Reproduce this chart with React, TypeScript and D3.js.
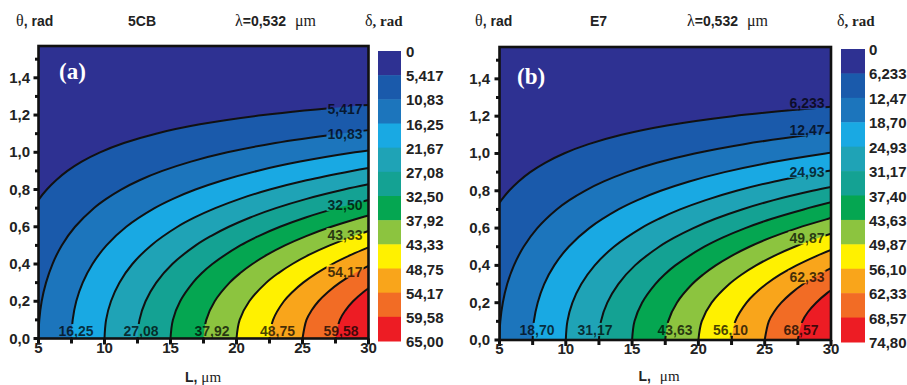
import React from "react";
import * as d3 from "d3";

type Pt = [number, number]; // [L (µm), theta (rad)]

// ---------- axes ----------
const L_MAJOR = [5, 10, 15, 20, 25, 30];
const L_MINOR = [7.5, 12.5, 17.5, 22.5, 27.5];
const T_MAJOR = [0, 0.2, 0.4, 0.6, 0.8, 1.0, 1.2, 1.4];
const T_MAJOR_LABELS = ["0,0", "0,2", "0,4", "0,6", "0,8", "1,0", "1,2", "1,4"];
const T_MINOR = [0.1, 0.3, 0.5, 0.7, 0.9, 1.1, 1.3, 1.5];

// ---------- colour bands (low δ -> high δ) ----------
const BAND_COLORS = [
  "#2e3192", "#1a5aab", "#1c75bc", "#19a9e3", "#1fa3b6", "#14a293",
  "#05a651", "#8cc43f", "#fff100", "#f9a51b", "#f26c25", "#ed1c24",
];

// ---------- level labels ----------
const LEVELS_5CB = ["0", "5,417", "10,83", "16,25", "21,67", "27,08", "32,50", "37,92", "43,33", "48,75", "54,17", "59,58", "65,00"];
const LEVELS_E7 = ["0", "6,233", "12,47", "18,70", "24,93", "31,17", "37,40", "43,63", "49,87", "56,10", "62,33", "68,57", "74,80"];

// ---------- contour lines: [L, θ] ----------
const CONTOURS_5CB: Pt[][] = [
  [[5, 0.743], [5.06, 0.75], [5.63, 0.8], [6.33, 0.85], [7.19, 0.9], [8.27, 0.95], [9.66, 1.0], [11.47, 1.05], [13.9, 1.1], [17.23, 1.15], [22.03, 1.2], [29.2, 1.25], [30, 1.254]],
  [[5, 0], [5.06, 0.1], [5.24, 0.2], [5.57, 0.3], [6.06, 0.4], [6.76, 0.5], [7.77, 0.6], [9.19, 0.7], [10.13, 0.75], [11.26, 0.8], [12.65, 0.85], [14.38, 0.9], [16.55, 0.95], [19.31, 1.0], [22.94, 1.05], [27.79, 1.1], [30, 1.119]],
  [[7.5, 0], [7.59, 0.1], [7.86, 0.2], [8.35, 0.3], [9.09, 0.4], [10.15, 0.5], [11.65, 0.6], [13.79, 0.7], [15.19, 0.75], [16.89, 0.8], [18.98, 0.85], [21.56, 0.9], [24.82, 0.95], [28.97, 1.0], [30, 1.01]],
  [[10, 0], [10.12, 0.1], [10.49, 0.2], [11.13, 0.3], [12.11, 0.4], [13.53, 0.5], [15.53, 0.6], [16.83, 0.65], [18.39, 0.7], [20.25, 0.75], [22.52, 0.8], [25.3, 0.85], [28.75, 0.9], [30, 0.916]],
  [[12.5, 0], [12.65, 0.1], [13.11, 0.2], [13.92, 0.3], [15.14, 0.4], [16.91, 0.5], [18.06, 0.55], [19.42, 0.6], [21.04, 0.65], [22.98, 0.7], [25.31, 0.75], [28.15, 0.8], [30, 0.828]],
  [[15, 0], [15.18, 0.1], [15.73, 0.2], [16.7, 0.3], [17.36, 0.35], [18.17, 0.4], [20.29, 0.5], [21.67, 0.55], [23.3, 0.6], [25.24, 0.65], [27.58, 0.7], [30, 0.744]],
  [[17.5, 0], [17.71, 0.1], [18.35, 0.2], [19.48, 0.3], [20.26, 0.35], [21.2, 0.4], [22.33, 0.45], [23.67, 0.5], [25.28, 0.55], [27.18, 0.6], [29.45, 0.65], [30, 0.661]],
  [[20, 0], [20.24, 0.1], [20.97, 0.2], [22.26, 0.3], [23.15, 0.35], [24.23, 0.4], [25.52, 0.45], [27.06, 0.5], [28.89, 0.55], [30, 0.577]],
  [[22.5, 0], [22.77, 0.1], [23.59, 0.2], [24.24, 0.25], [25.05, 0.3], [26.05, 0.35], [27.26, 0.4], [28.71, 0.45], [30, 0.489]],
  [[25, 0], [25.3, 0.1], [25.68, 0.15], [26.21, 0.2], [26.93, 0.25], [27.83, 0.3], [28.94, 0.35], [30, 0.39]],
  [[27.5, 0], [27.83, 0.1], [28.24, 0.15], [28.83, 0.2], [29.62, 0.25], [30, 0.269]],
];

const CONTOURS_E7: Pt[][] = [
  [[5, 0.736], [5.14, 0.75], [5.72, 0.8], [6.44, 0.85], [7.32, 0.9], [8.44, 0.95], [9.86, 1.0], [11.72, 1.05], [14.21, 1.1], [17.63, 1.15], [22.58, 1.2], [30, 1.25]],
  [[5, 0], [5.06, 0.1], [5.25, 0.2], [5.58, 0.3], [6.09, 0.4], [6.82, 0.5], [7.85, 0.6], [9.31, 0.7], [10.27, 0.75], [11.44, 0.8], [12.87, 0.85], [14.64, 0.9], [16.87, 0.95], [19.72, 1.0], [23.44, 1.05], [28.43, 1.1], [30, 1.113]],
  [[7.5, 0], [7.59, 0.1], [7.88, 0.2], [8.37, 0.3], [9.13, 0.4], [10.22, 0.5], [11.77, 0.6], [13.97, 0.7], [15.41, 0.75], [17.16, 0.8], [19.31, 0.85], [21.97, 0.9], [25.31, 0.95], [29.59, 1.0], [30, 1.004]],
  [[10, 0], [10.12, 0.1], [10.5, 0.2], [11.17, 0.3], [12.18, 0.4], [13.63, 0.5], [15.69, 0.6], [17.03, 0.65], [18.62, 0.7], [20.55, 0.75], [22.88, 0.8], [25.74, 0.85], [29.29, 0.9], [30, 0.909]],
  [[12.5, 0], [12.65, 0.1], [13.13, 0.2], [13.96, 0.3], [15.22, 0.4], [17.04, 0.5], [18.22, 0.55], [19.62, 0.6], [21.28, 0.65], [23.28, 0.7], [25.68, 0.75], [28.6, 0.8], [30, 0.821]],
  [[15, 0], [15.18, 0.1], [15.75, 0.2], [16.75, 0.3], [17.43, 0.35], [18.26, 0.4], [20.45, 0.5], [21.86, 0.55], [23.54, 0.6], [25.54, 0.65], [27.94, 0.7], [30, 0.738]],
  [[17.5, 0], [17.72, 0.1], [18.38, 0.2], [19.54, 0.3], [20.34, 0.35], [21.31, 0.4], [22.47, 0.45], [23.85, 0.5], [25.5, 0.55], [27.46, 0.6], [29.8, 0.65], [30, 0.654]],
  [[20, 0], [20.25, 0.1], [21.0, 0.2], [22.33, 0.3], [23.24, 0.35], [24.35, 0.4], [25.68, 0.45], [27.26, 0.5], [29.14, 0.55], [30, 0.57]],
  [[22.5, 0], [22.78, 0.1], [23.63, 0.2], [24.29, 0.25], [25.12, 0.3], [26.15, 0.35], [27.4, 0.4], [28.89, 0.45], [30, 0.483]],
  [[25, 0], [25.31, 0.1], [25.7, 0.15], [26.25, 0.2], [26.99, 0.25], [27.91, 0.3], [29.06, 0.35], [30, 0.385]],
  [[27.5, 0], [27.84, 0.1], [28.26, 0.15], [28.88, 0.2], [29.68, 0.25], [30, 0.266]],
];

// contour labels: [level index, L, θ] (label centre, data units)
const LABELS_5CB: [number, number, number][] = [
  [1, 28.22, 1.233], [2, 28.22, 1.097], [6, 28.22, 0.716], [8, 28.22, 0.555], [10, 28.22, 0.359],
  [3, 7.84, 0.04], [5, 12.77, 0.04], [7, 18.14, 0.04], [9, 23.11, 0.04], [11, 27.92, 0.04],
];
const LABELS_E7: [number, number, number][] = [
  [1, 28.19, 1.269], [2, 28.19, 1.126], [4, 28.19, 0.902], [8, 28.19, 0.545], [10, 28.19, 0.336],
  [3, 7.83, 0.054], [5, 12.2, 0.054], [7, 18.24, 0.054], [9, 22.42, 0.054], [11, 27.74, 0.054],
];

const SANS = "'Liberation Sans', Arial, Helvetica, sans-serif";
const SERIF = "'Liberation Serif', 'Times New Roman', serif";

function textWidth(s: string, fs: number) {
  let w = 0;
  for (const ch of s) w += ch === "," ? 0.278 : 0.556;
  return w * fs;
}

type Cfg = {
  id: string;
  left: number; right: number; bottom: number; top: number;
  cbX: number; cbW: number; cbTop: number; cbBottom: number; cbLabelX: number;
  yLabelX: number; xLabelBase: number; xTitleX: number; xTitleBase: number;
  tagX: number; tagY: number;
  titleThetaX: number; titleMatX: number; titleLamX: number; titleDeltaX: number;
};

function Panel({ cfg, contours, levels, labels, material, tag, xTitleGap }: {
  cfg: Cfg; contours: Pt[][]; levels: string[]; labels: [number, number, number][];
  material: string; tag: string; xTitleGap: string;
}) {
  const x = d3.scaleLinear().domain([5, 30]).range([cfg.left, cfg.right]);
  const y = d3.scaleLinear().domain([0, Math.PI / 2]).range([cfg.bottom, cfg.top]);
  const line = d3.line<Pt>().x((d) => x(d[0])).y((d) => y(d[1])).curve(d3.curveCatmullRom.alpha(0.5));
  const cb = d3.scaleLinear().domain([0, BAND_COLORS.length]).range([cfg.cbTop, cfg.cbBottom]);
  const fsLab = 14;
  const clipId = `clip-${cfg.id}`;
  const maskId = `mask-${cfg.id}`;

  const regionPath = (c: Pt[]) => {
    const start = c[0];
    return `${line(c)}L${x(30)},${y(0)}L${x(start[0])},${y(0)}Z`;
  };

  return (
    <g>
      <defs>
        <clipPath id={clipId}>
          <rect x={cfg.left} y={cfg.top} width={cfg.right - cfg.left} height={cfg.bottom - cfg.top} />
        </clipPath>
        <mask id={maskId} maskUnits="userSpaceOnUse" x={0} y={0} width={907} height={385}>
          <rect x={0} y={0} width={907} height={385} fill="white" />
          {labels.map(([k, L, t], i) => {
            const w = textWidth(levels[k], fsLab) + 2;
            return <rect key={i} x={x(L) - w / 2} y={y(t) - 7} width={w} height={13} fill="black" />;
          })}
        </mask>
      </defs>

      {/* filled bands */}
      <g clipPath={`url(#${clipId})`}>
        <rect x={cfg.left} y={cfg.top} width={cfg.right - cfg.left} height={cfg.bottom - cfg.top} fill={BAND_COLORS[0]} />
        {contours.map((c, i) => (
          <path key={i} d={regionPath(c)} fill={BAND_COLORS[i + 1]} />
        ))}
        <g mask={`url(#${maskId})`}>
          {contours.map((c, i) => (
            <path key={i} d={line(c) || ""} fill="none" stroke="#111" strokeWidth={2} />
          ))}
        </g>
        {labels.map(([k, L, t], i) => (
          <text key={i} x={x(L)} y={y(t) + 5} textAnchor="middle" fontFamily={SANS} fontWeight="bold"
            fontSize={fsLab} fill="#000" fillOpacity={0.72}>{levels[k]}</text>
        ))}
      </g>

      {/* frame */}
      <rect x={cfg.left} y={cfg.top} width={cfg.right - cfg.left} height={cfg.bottom - cfg.top}
        fill="none" stroke="#111" strokeWidth={2.6} />

      {/* y ticks */}
      {T_MAJOR.map((t, i) => (
        <g key={`ym${i}`}>
          <line x1={cfg.left - 5} x2={cfg.left} y1={y(t)} y2={y(t)} stroke="#111" strokeWidth={3} />
          <text x={cfg.yLabelX} y={y(t) + 5} textAnchor="end" fontFamily={SANS} fontWeight="bold" fontSize={15} fill="#222">
            {T_MAJOR_LABELS[i]}
          </text>
        </g>
      ))}
      {T_MINOR.map((t, i) => (
        <line key={`yn${i}`} x1={cfg.left - 3.5} x2={cfg.left} y1={y(t)} y2={y(t)} stroke="#111" strokeWidth={3} />
      ))}

      {/* x ticks */}
      {L_MAJOR.map((L, i) => (
        <g key={`xm${i}`}>
          <line x1={x(L)} x2={x(L)} y1={cfg.bottom} y2={cfg.bottom + 6} stroke="#111" strokeWidth={3} />
          <text x={x(L)} y={cfg.xLabelBase} textAnchor="middle" fontFamily={SANS} fontWeight="bold" fontSize={15} fill="#222">
            {L}
          </text>
        </g>
      ))}
      {L_MINOR.map((L, i) => (
        <line key={`xn${i}`} x1={x(L)} x2={x(L)} y1={cfg.bottom} y2={cfg.bottom + 5} stroke="#111" strokeWidth={3} />
      ))}

      {/* x title */}
      <text x={cfg.xTitleX} y={cfg.xTitleBase} textAnchor="middle" fill="#222">
        <tspan fontFamily={SANS} fontWeight="bold" fontSize={14}>L,</tspan>
        <tspan fontFamily={SERIF} fontSize={15} dx={xTitleGap}>μm</tspan>
      </text>

      {/* panel tag */}
      <text x={cfg.tagX} y={cfg.tagY} fontFamily={SERIF} fontWeight="bold" fontSize={23} fill="#fff">{tag}</text>

      {/* top titles */}
      <text x={cfg.titleThetaX} y={26} fill="#222">
        <tspan fontFamily={SERIF} fontSize={16}>θ</tspan>
        <tspan fontFamily={SANS} fontWeight="bold" fontSize={14}>, rad</tspan>
      </text>
      <text x={cfg.titleMatX} y={26} fontFamily={SANS} fontWeight="bold" fontSize={14} fill="#222">{material}</text>
      <text x={cfg.titleLamX} y={26} fill="#222">
        <tspan fontFamily={SERIF} fontSize={16}>λ</tspan>
        <tspan fontFamily={SANS} fontWeight="bold" fontSize={14}>=0,532</tspan>
        <tspan fontFamily={SERIF} fontSize={16} dx={9}>μm</tspan>
      </text>
      <text x={cfg.titleDeltaX} y={26} fill="#222">
        <tspan fontFamily={SERIF} fontSize={16}>δ</tspan>
        <tspan fontFamily={SERIF} fontWeight="bold" fontSize={15}>, rad</tspan>
      </text>

      {/* colour bar */}
      {BAND_COLORS.map((c, i) => (
        <rect key={`cb${i}`} x={cfg.cbX} y={cb(i)} width={cfg.cbW} height={cb(i + 1) - cb(i) + 0.5} fill={c} />
      ))}
      {levels.map((s, i) => (
        <text key={`cl${i}`} x={cfg.cbLabelX} y={cb(i) + 6} fontFamily={SANS} fontWeight="bold" fontSize={15} fill="#222">{s}</text>
      ))}
    </g>
  );
}

const CFG_A: Cfg = {
  id: "a", left: 38.5, right: 368.5, bottom: 338.5, top: 46,
  cbX: 378, cbW: 23, cbTop: 51, cbBottom: 341, cbLabelX: 406,
  yLabelX: 30, xLabelBase: 353, xTitleX: 203, xTitleBase: 382,
  tagX: 59, tagY: 79,
  titleThetaX: 16, titleMatX: 128, titleLamX: 235, titleDeltaX: 365,
};
const CFG_B: Cfg = {
  id: "b", left: 499.5, right: 831, bottom: 340, top: 47,
  cbX: 841, cbW: 24, cbTop: 49, cbBottom: 342, cbLabelX: 869,
  yLabelX: 490, xLabelBase: 354, xTitleX: 659, xTitleBase: 381,
  tagX: 517, tagY: 84,
  titleThetaX: 475, titleMatX: 590, titleLamX: 687, titleDeltaX: 837,
};

export default function App() {
  return (
    <svg width={907} height={385} viewBox="0 0 907 385" style={{ position: "absolute", left: 0, top: 0, background: "#fff" }}>
      <rect x={0} y={0} width={907} height={385} fill="#fff" />
      <Panel cfg={CFG_A} contours={CONTOURS_5CB} levels={LEVELS_5CB} labels={LABELS_5CB} material="5CB" tag="(a)" xTitleGap="4" />
      <Panel cfg={CFG_B} contours={CONTOURS_E7} levels={LEVELS_E7} labels={LABELS_E7} material="E7" tag="(b)" xTitleGap="9" />
    </svg>
  );
}
